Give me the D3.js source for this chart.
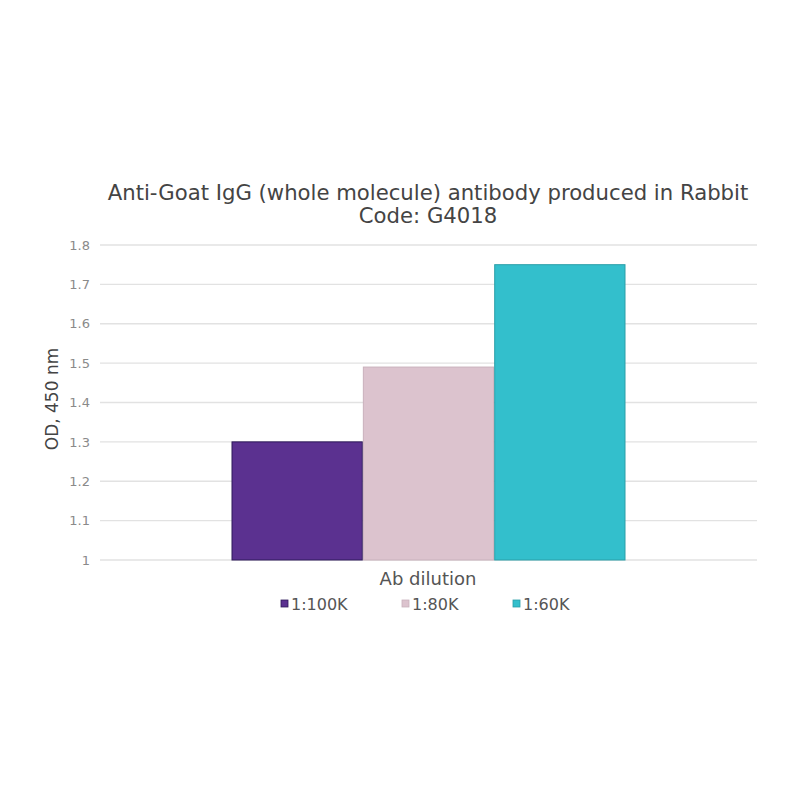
<!DOCTYPE html>
<html><head><meta charset="utf-8">
<script src="https://cdn.jsdelivr.net/npm/d3@7"></script>
<style>body{margin:0;background:#fff}</style>
</head><body>
<svg id="c" width="800" height="800"></svg>
<script>
const categories = ["1:100K", "1:80K", "1:60K"];
const values = [1.30, 1.49, 1.75];
const colors = ["#5b3190", "#dcc3ce", "#33bfcc"];
const strokes = ["#2e1a5a", "#c9b1bc", "#2a9ea8"];
const yTicks = [1, 1.1, 1.2, 1.3, 1.4, 1.5, 1.6, 1.7, 1.8];
const titleLines = ["Anti-Goat IgG (whole molecule) antibody produced in Rabbit", "Code: G4018"];

const svg = d3.select("#c");
const font = "'DejaVu Sans', Verdana, sans-serif";
const m = {left: 100, right: 757, top: 245, bottom: 560};

const y = d3.scaleLinear().domain([1, 1.8]).range([m.bottom, m.top]);
const x = d3.scaleBand().domain(categories).range([232, 625]).paddingInner(0.008);

svg.append("g").selectAll("line").data(yTicks).join("line")
  .attr("x1", m.left).attr("x2", m.right)
  .attr("y1", d => y(d)).attr("y2", d => y(d))
  .attr("stroke", "#e2e2e2").attr("stroke-width", 1.3);

const yAxis = svg.append("g").attr("transform", `translate(${m.left - 4},0)`)
  .call(d3.axisLeft(y).tickValues(yTicks).tickFormat(d => d3.format("")(+d.toFixed(1))).tickSize(0).tickPadding(6));
yAxis.select(".domain").remove();
yAxis.selectAll("text").attr("fill", "#8a8a8a").style("font-family", font).style("font-size", "13px");

svg.append("g").selectAll("rect").data(values).join("rect")
  .attr("x", (d, i) => x(categories[i]))
  .attr("width", x.bandwidth())
  .attr("y", d => y(d))
  .attr("height", d => y(1) - y(d))
  .attr("fill", (d, i) => colors[i])
  .attr("stroke", (d, i) => strokes[i]).attr("stroke-width", 1);

svg.append("g").selectAll("text").data(titleLines).join("text")
  .attr("x", 428).attr("y", (d, i) => 200 + i * 23)
  .attr("text-anchor", "middle").attr("fill", "#444")
  .style("font-family", font).style("font-size", "21.2px").text(d => d);

svg.append("text").attr("x", 428).attr("y", 585).attr("text-anchor", "middle")
  .attr("fill", "#555").style("font-family", font).style("font-size", "18px").text("Ab dilution");

svg.append("text").attr("transform", "translate(58,399) rotate(-90)").attr("text-anchor", "middle")
  .attr("fill", "#444").style("font-family", font).style("font-size", "17px").text("OD, 450 nm");

const legX = [281, 402, 513];
const lg = svg.append("g").selectAll("g").data(categories).join("g")
  .attr("transform", (d, i) => `translate(${legX[i]},604)`);
lg.append("rect").attr("x", 0).attr("y", -4).attr("width", 7).attr("height", 7)
  .attr("fill", (d, i) => colors[i]).attr("stroke", (d, i) => strokes[i]).attr("stroke-width", 0.8);
lg.append("text").attr("x", 10).attr("y", 6).attr("fill", "#555")
  .style("font-family", font).style("font-size", "16px").text(d => d);
</script>
</body></html>
